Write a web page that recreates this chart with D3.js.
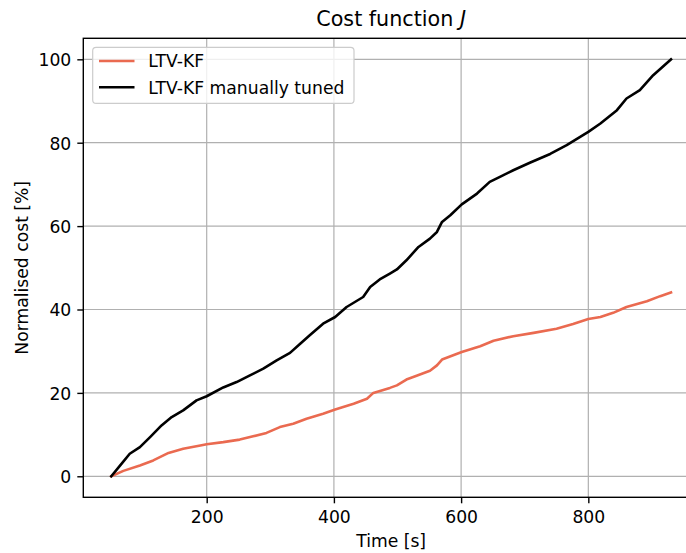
<!DOCTYPE html>
<html>
<head>
<meta charset="utf-8">
<script src="https://cdn.jsdelivr.net/npm/d3@7"></script>
<style>
  html, body { margin: 0; padding: 0; background: #ffffff; overflow: hidden; }
  svg { display: block; font-family: "DejaVu Sans", sans-serif; }
</style>
</head>
<body>
<svg id="chart" width="686" height="553"></svg>
<script>
// ---- data ----
const tunedTime = [50, 65, 79, 95, 111, 129, 145, 163, 184, 200, 226, 247, 268, 289, 310, 331, 347, 362, 383, 402, 420, 446, 457, 472, 488, 499, 514, 533, 551, 562, 570, 583, 601, 625, 645, 661, 682, 708, 740, 766, 800, 819, 845, 860, 881, 902, 930];
const tunedCost = [0, 2.8, 5.4, 7.0, 9.4, 12.2, 14.2, 15.8, 18.2, 19.2, 21.3, 22.6, 24.2, 25.8, 27.8, 29.6, 31.8, 33.8, 36.6, 38.2, 40.6, 43.0, 45.4, 47.2, 48.6, 49.6, 51.8, 55.0, 57.0, 58.6, 61.0, 62.6, 65.2, 67.8, 70.6, 71.8, 73.4, 75.2, 77.3, 79.4, 82.6, 84.6, 87.8, 90.6, 92.6, 96.2, 100];

const kfTime = [50, 69, 95, 116, 140, 163, 190, 200, 226, 252, 273, 294, 315, 336, 357, 383, 402, 431, 452, 462, 488, 499, 514, 530, 551, 562, 570, 601, 630, 651, 682, 714, 750, 776, 800, 819, 839, 860, 892, 913, 930];
const kfCost = [0, 1.3, 2.6, 3.8, 5.6, 6.6, 7.4, 7.7, 8.2, 8.8, 9.6, 10.4, 11.8, 12.6, 13.8, 15.0, 16.0, 17.4, 18.6, 20.0, 21.2, 21.8, 23.2, 24.1, 25.3, 26.6, 28.0, 29.8, 31.2, 32.5, 33.6, 34.4, 35.4, 36.5, 37.7, 38.2, 39.2, 40.6, 42.0, 43.2, 44.1];

const xTicks = [200, 400, 600, 800];
const yTicks = [0, 20, 40, 60, 80, 100];
const seriesNames = ["LTV-KF", "LTV-KF manually tuned"];
const seriesColors = ["#ea6a50", "#000000"];
const titleText = "Cost function ";
const titleMath = "J";
const xLabel = "Time [s]";
const yLabel = "Normalised cost [%]";

// ---- layout ----
const plotLeft = 83.3, plotTop = 38.3, plotRight = 699, plotBottom = 497.3;
const fs = 17.2;

const svg = d3.select("#chart");

const x = d3.scaleLinear().domain([6, 974]).range([plotLeft, plotRight]);
const y = d3.scaleLinear().domain([-5.04, 105.04]).range([plotBottom, plotTop]);

// grid
const grid = svg.append("g");
grid.selectAll("line.gx").data(xTicks).enter().append("line")
  .attr("x1", d => x(d)).attr("x2", d => x(d))
  .attr("y1", plotTop).attr("y2", plotBottom)
  .attr("stroke", "#b0b0b0").attr("stroke-width", 1.2);
grid.selectAll("line.gy").data(yTicks).enter().append("line")
  .attr("x1", plotLeft).attr("x2", plotRight)
  .attr("y1", d => y(d)).attr("y2", d => y(d))
  .attr("stroke", "#b0b0b0").attr("stroke-width", 1.2);

// lines
const series = [
  { name: seriesNames[0], color: seriesColors[0], t: kfTime, v: kfCost },
  { name: seriesNames[1], color: seriesColors[1], t: tunedTime, v: tunedCost }
];
const lineGen = d3.line().x(d => x(d[0])).y(d => y(d[1]));
series.forEach(s => {
  svg.append("path")
    .datum(s.t.map((t, i) => [t, s.v[i]]))
    .attr("d", lineGen)
    .attr("fill", "none")
    .attr("stroke", s.color)
    .attr("stroke-width", 2.6)
    .attr("stroke-linejoin", "round")
    .attr("stroke-linecap", "square");
});

// spines
svg.append("rect")
  .attr("x", plotLeft).attr("y", plotTop)
  .attr("width", plotRight - plotLeft).attr("height", plotBottom - plotTop)
  .attr("fill", "none").attr("stroke", "#000").attr("stroke-width", 1.4);

// axes
const xAxis = d3.axisBottom(x).tickValues(xTicks).tickSize(6).tickPadding(6).tickFormat(d3.format("d"));
const gx = svg.append("g").attr("transform", `translate(0,${plotBottom})`).call(xAxis);
gx.select(".domain").remove();
gx.selectAll(".tick line").attr("stroke", "#000").attr("stroke-width", 1.4);
gx.selectAll(".tick text").attr("font-family", "DejaVu Sans").attr("font-size", fs).attr("fill", "#000")
  .attr("dy", null).attr("y", 26);

const yAxis = d3.axisLeft(y).tickValues(yTicks).tickSize(6).tickPadding(6).tickFormat(d3.format("d"));
const gy = svg.append("g").attr("transform", `translate(${plotLeft},0)`).call(yAxis);
gy.select(".domain").remove();
gy.selectAll(".tick line").attr("stroke", "#000").attr("stroke-width", 1.4);
gy.selectAll(".tick text").attr("font-family", "DejaVu Sans").attr("font-size", fs).attr("fill", "#000")
  .attr("dy", null).attr("y", 6.3).attr("x", -12);

// labels
svg.append("text").attr("x", (plotLeft + plotRight) / 2).attr("y", 546.5)
  .attr("text-anchor", "middle").attr("font-size", fs).attr("fill", "#000").text(xLabel);
svg.append("text")
  .attr("transform", `translate(27.5,${(plotTop + plotBottom) / 2}) rotate(-90)`)
  .attr("text-anchor", "middle").attr("font-size", fs).attr("fill", "#000").text(yLabel);

const title = svg.append("text").attr("x", (plotLeft + plotRight) / 2).attr("y", 26)
  .attr("text-anchor", "middle").attr("font-size", 20.7).attr("fill", "#000");
title.append("tspan").text(titleText);
title.append("tspan").attr("font-style", "italic").text(titleMath);

// legend
const lg = svg.append("g");
lg.append("rect").attr("x", 92.7).attr("y", 47.3).attr("width", 354 - 92.7).attr("height", 103.3 - 47.3)
  .attr("rx", 3.4).attr("ry", 3.4)
  .attr("fill", "#fff").attr("fill-opacity", 0.8).attr("stroke", "#cccccc").attr("stroke-width", 1.2);
series.forEach((s, i) => {
  const cy = 61 + i * 26.3;
  lg.append("line").attr("x1", 99).attr("x2", 134.5).attr("y1", cy).attr("y2", cy)
    .attr("stroke", s.color).attr("stroke-width", 2.6);
  lg.append("text").attr("x", 148.3).attr("y", cy + 6.3).attr("font-size", fs).attr("fill", "#000").text(s.name);
});
</script>
</body>
</html>
